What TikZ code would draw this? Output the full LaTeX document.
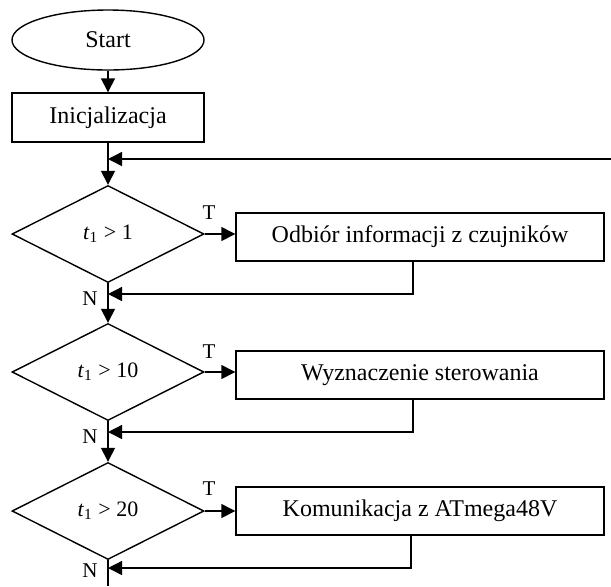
\documentclass[tikz,border=0pt]{standalone}
\usepackage{fontspec}
\setmainfont{Liberation Serif}
\usetikzlibrary{shapes.geometric}
\usetikzlibrary{arrows.meta}
\newcommand{\tjeden}{\textit{t}\textsubscript{1}}

\begin{document}
\begin{tikzpicture}[x=0.5pt, y=-0.5pt, line width=0.7pt, font=\fontsize{12}{14}\selectfont,
  blok/.style={draw, rectangle, inner sep=0pt, minimum height=24pt, minimum width=184pt},
  warunek/.style={draw, diamond, inner sep=0pt, minimum width=96pt, minimum height=48.5pt, font=\fontsize{11}{12}\selectfont},
  strz/.style={-{Triangle[length=7pt,width=7pt]}},
  etykieta/.style={font=\fontsize{10.5}{12}\selectfont, inner sep=0pt}]
\useasboundingbox (0,0) rectangle (611,586);
\node[draw, ellipse, minimum width=96pt, minimum height=30pt, inner sep=0pt] (start) at (108,40) {Start};
\node[blok, minimum width=96pt, minimum height=24.5pt] (init) at (108,117.5) {Inicjalizacja};
\node[warunek] (d1) at (108,234) {\raisebox{-1.5pt}{\tjeden{} > 1}};
\node[warunek] (d2) at (108,372) {\raisebox{-1.5pt}{\tjeden{} > 10}};
\node[warunek] (d3) at (108,511) {\raisebox{-1.5pt}{\tjeden{} > 20}};
\node[blok] (r1) at (420,237) {Odbiór informacji z czujników};
\node[blok] (r2) at (420,375) {Wyznaczenie sterowania};
\node[blok] (r3) at (420,511) {Komunikacja z ATmega48V};
\node[etykieta] (t1) at (209,213) {T};
\node[etykieta] (t2) at (209,352) {T};
\node[etykieta] (t3) at (209,489) {T};
\node[etykieta] (n1) at (90,299) {N};
\node[etykieta] (n2) at (90,437) {N};
\node[etykieta] (n3) at (90,571) {N};
\coordinate (powrot) at (611,159);
\coordinate (j0) at (108,159);
\coordinate (j1) at (108,294);
\coordinate (j2) at (108,432);
\coordinate (j3) at (108,568);
\coordinate (koniec) at (108,586);
\draw[strz] (start) -- (init);
\draw[strz] (init) -- (d1);
\draw[strz] (powrot) -- (j0);
\draw[strz] (d1) -- (d2);
\draw[strz] (d2) -- (d3);
\draw (d3.south) -- (koniec);
\draw[strz] (d1.east) -- (r1.west |- d1.east);
\draw[strz] (d2.east) -- (r2.west |- d2.east);
\draw[strz] (d3.east) -- (r3.west |- d3.east);
\draw[strz] ([xshift=-3.5pt]r1.south) |- (j1);
\draw[strz] ([xshift=-3.5pt]r2.south) |- (j2);
\draw[strz] ([xshift=-4.5pt]r3.south) |- (j3);
\end{tikzpicture}
\end{document}
